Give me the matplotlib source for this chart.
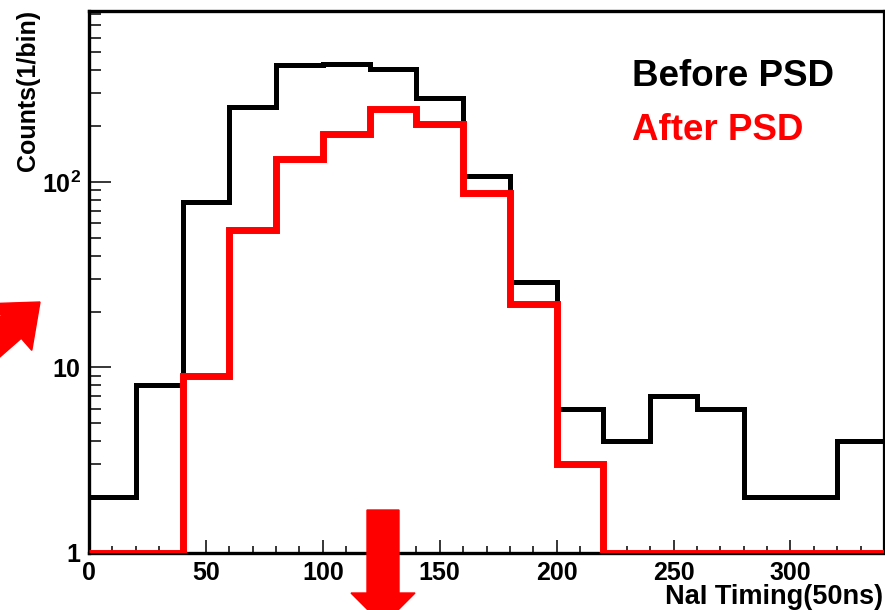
import numpy as np
import matplotlib
matplotlib.use("Agg")
import matplotlib.pyplot as plt
import matplotlib.patches as mpatches

plt.rcParams['font.family'] = ['Liberation Sans', 'DejaVu Sans']
plt.rcParams['font.weight'] = 'bold'
plt.rcParams['mathtext.fontset'] = 'custom'
plt.rcParams['mathtext.rm'] = 'Liberation Sans:bold'
plt.rcParams['mathtext.bf'] = 'Liberation Sans:bold'

# histogram data (bin width 20, unit 50ns)
bin_edges = [0, 20, 40, 60, 80, 100, 120, 140, 160, 180, 200,
             220, 240, 260, 280, 300, 320, 340]
before_psd = [2, 8, 78, 253, 426, 432, 405, 283, 108, 29, 6, 4, 7, 6, 2, 2, 4]
after_psd = [0, 0, 9, 55, 133, 181, 247, 205, 87, 22, 3, 0, 0, 0, 0, 0, 0]

y_ticks = [1, 10, 100]
y_tick_labels = ['1', '10', r'$\mathbf{10^{2}}$']
x_ticks = [0, 50, 100, 150, 200, 250, 300]

fig = plt.figure(figsize=(8.85, 6.10), dpi=100)
ax = fig.add_axes([89 / 885, 57 / 610, 795 / 885, 542 / 610])

ymin = 1
# empty bins sit on the bottom of the log axis, like ROOT does
ax.stairs(np.clip(before_psd, ymin, None), bin_edges, baseline=None,
          color='black', linewidth=3.6, zorder=3)
ax.stairs(np.clip(after_psd, ymin, None), bin_edges, baseline=None,
          color='#ff0000', linewidth=5, zorder=4)

ax.set_yscale('log')
ax.set_xlim(0, 340)
ax.set_ylim(ymin, 835)

ax.set_yticks(y_ticks)
ax.set_yticklabels(y_tick_labels)
ax.set_xticks(x_ticks)
ax.set_xticks(np.arange(0, 341, 10), minor=True)

ax.tick_params(axis='y', which='major', direction='in', length=16, width=1.1,
               labelsize=18, pad=6)
ax.tick_params(axis='y', which='minor', direction='in', length=8.5, width=1.1)
ax.tick_params(axis='x', which='major', direction='in', length=9.5, width=1.1,
               labelsize=18, pad=6)
ax.tick_params(axis='x', which='minor', direction='in', length=5, width=1.1)

for side in ['left', 'bottom', 'top']:
    ax.spines[side].set_linewidth(2.4)
ax.spines['right'].set_linewidth(1.6)

# axis titles (ROOT style, pushed to the ends)
fig.text(28 / 885, 1 - 10 / 610, 'Counts(1/bin)', rotation=90,
         ha='center', va='top', fontsize=18, fontweight='bold')
fig.text(883 / 885, 6 / 610, 'NaI Timing(50ns)', ha='right', va='baseline',
         fontsize=19.5, fontweight='bold')

# legend labels
ax.text(632 / 885, 1 - 86 / 610, 'Before PSD', transform=fig.transFigure,
        ha='left', va='baseline', fontsize=26.5, fontweight='bold', color='black')
ax.text(632 / 885, 1 - 140 / 610, 'After PSD', transform=fig.transFigure,
        ha='left', va='baseline', fontsize=26.5, fontweight='bold', color='#ff0000')

# red marker arrows drawn over the figure
arrow_down = mpatches.FancyArrow(3.83, 1.00, 0, -1.15, width=0.32,
                                 head_width=0.64, head_length=0.32,
                                 length_includes_head=True, color='#ff0000',
                                 transform=fig.dpi_scale_trans, zorder=10)
arrow_side = mpatches.FancyArrow(-0.55, 2.25, 0.95, 0.83, width=0.30,
                                 head_width=0.62, head_length=0.38,
                                 length_includes_head=True, color='#ff0000',
                                 transform=fig.dpi_scale_trans, zorder=10)
fig.add_artist(arrow_down)
fig.add_artist(arrow_side)

plt.savefig('out.png', dpi=100)
